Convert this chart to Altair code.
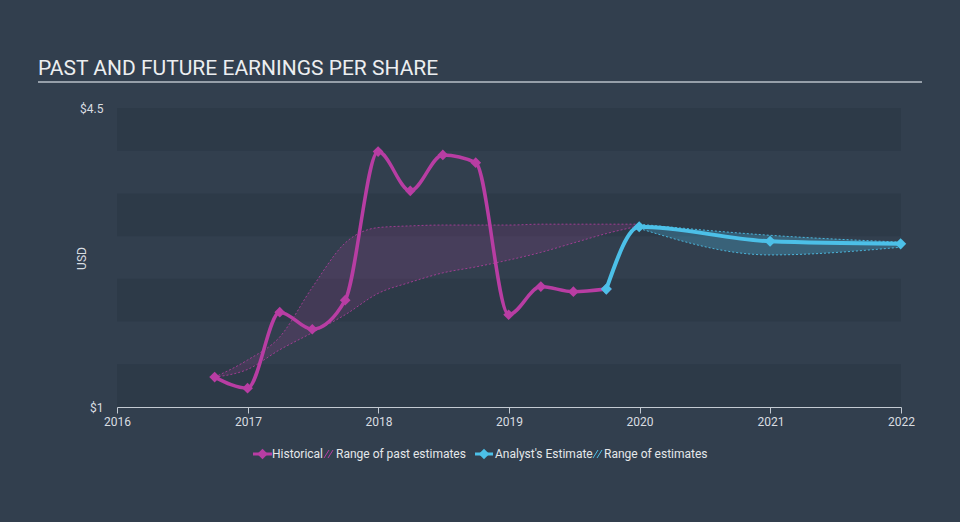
import altair as alt
import pandas as pd

# ---------------- data ----------------
hist_dates = ["2016-09-30", "2016-12-31", "2017-03-31", "2017-06-30", "2017-09-30",
              "2017-12-31", "2018-03-31", "2018-06-30", "2018-09-30", "2018-12-31",
              "2019-03-31", "2019-06-30", "2019-09-30"]
hist_eps = [1.35, 1.22, 2.11, 1.91, 2.25, 3.99, 3.53, 3.95, 3.86, 2.08, 2.41, 2.35, 2.38]

past_range_dates = hist_dates + ["2019-12-31"]
past_low = [1.35, 1.44, 1.67, 1.87, 2.08, 2.33, 2.46, 2.57, 2.64, 2.72, 2.81, 2.92, 3.03, 3.12]
past_high = [1.35, 1.55, 1.82, 2.40, 2.92, 3.10, 3.12, 3.13, 3.13, 3.13, 3.14, 3.14, 3.14, 3.14]

fc_dates = ["2019-09-30", "2019-12-31", "2020-12-31", "2021-12-31"]
fc_eps = [2.38, 3.11, 2.94, 2.91]

fc_range_dates = ["2019-12-31", "2020-12-31", "2021-12-31"]
fc_low = [3.09, 2.78, 2.87]
fc_high = [3.14, 3.01, 2.93]

band_lo = [1.0, 2.0, 3.0, 4.0]
band_hi = [1.5, 2.5, 3.5, 4.5]

x_tick_years = [2016, 2017, 2018, 2019, 2020, 2021, 2022]
y_ticks = [1, 4.5]

title_text = "PAST AND FUTURE EARNINGS PER SHARE"
legend_labels = ["Historical", "Range of past estimates", "Analyst's Estimate", "Range of estimates"]

# ---------------- style ----------------
W, H = 784, 299
BG = "#323f4e"
DARK = "#2d3a48"
MAG = "#b83da3"
BLUE = "#4cc0e8"
TXT = "#d9dde1"
FONT = "Roboto"

hist_df = pd.DataFrame({"date": hist_dates, "eps": hist_eps})
past_df = pd.DataFrame({"date": past_range_dates, "low": past_low, "high": past_high})
fc_df = pd.DataFrame({"date": fc_dates, "eps": fc_eps})
fcr_df = pd.DataFrame({"date": fc_range_dates, "low": fc_low, "high": fc_high})
band_df = pd.DataFrame({"lo": band_lo, "hi": band_hi})

xs = alt.Scale(type="utc",
               domain=[alt.DateTime(year=2016, month=1, date=1, utc=True),
                       alt.DateTime(year=2022, month=1, date=1, utc=True)])
ys = alt.Scale(domain=[1, 4.5], nice=False, zero=False)

x_axis = alt.Axis(values=[alt.DateTime(year=y, month=1, date=1, utc=True) for y in x_tick_years],
                  format="%Y", title=None, grid=False, domainColor="#c3cad2",
                  tickColor="#c3cad2", tickSize=6, labelPadding=3, labelColor=TXT,
                  labelFontSize=12, labelFont=FONT, domainWidth=1, labelFlush=False,
                  labelOverlap=False)
y_axis = alt.Axis(values=y_ticks, format="$.2~g", title="USD", grid=False, domain=False,
                  ticks=False, labelPadding=14, labelColor=TXT, labelFontSize=12,
                  labelFont=FONT, titleFont=FONT, titleFontSize=12, titleFontWeight="normal",
                  titleColor=TXT, titleX=-36, titleY=150, titleAngle=270,
                  titleAlign="center", titleBaseline="middle", labelFlush=False)

X = lambda f: alt.X(f, scale=xs, axis=x_axis)
Y = lambda f: alt.Y(f, scale=ys, axis=y_axis)

bands = alt.Chart(band_df).mark_rect(color=DARK).encode(
    x=alt.value(0), x2=alt.value(W), y=Y("lo:Q"), y2="hi:Q")

past_area = alt.Chart(past_df).mark_area(interpolate="monotone", color=MAG, opacity=0.16).encode(
    x=X("date:T"), y=Y("low:Q"), y2="high:Q")
past_lo_line = alt.Chart(past_df).mark_line(interpolate="monotone", color=MAG, strokeWidth=1,
                                            strokeDash=[2, 2], opacity=0.8).encode(
    x=X("date:T"), y=Y("low:Q"))
past_hi_line = alt.Chart(past_df).mark_line(interpolate="monotone", color=MAG, strokeWidth=1,
                                            strokeDash=[2, 2], opacity=0.8).encode(
    x=X("date:T"), y=Y("high:Q"))

fc_area = alt.Chart(fcr_df).mark_area(interpolate="monotone", color=BLUE, opacity=0.28).encode(
    x=X("date:T"), y=Y("low:Q"), y2="high:Q")
fc_lo_line = alt.Chart(fcr_df).mark_line(interpolate="monotone", color=BLUE, strokeWidth=1,
                                         strokeDash=[2, 2], opacity=0.9).encode(
    x=X("date:T"), y=Y("low:Q"))
fc_hi_line = alt.Chart(fcr_df).mark_line(interpolate="monotone", color=BLUE, strokeWidth=1,
                                         strokeDash=[2, 2], opacity=0.9).encode(
    x=X("date:T"), y=Y("high:Q"))

hist_line = alt.Chart(hist_df).mark_line(interpolate="monotone", color=MAG, strokeWidth=3.5).encode(
    x=X("date:T"), y=Y("eps:Q"))
hist_pts = alt.Chart(hist_df).mark_point(shape="diamond", filled=True, color=MAG, size=115, opacity=1).encode(
    x=X("date:T"), y=Y("eps:Q"))

fc_line = alt.Chart(fc_df).mark_line(interpolate="monotone", color=BLUE, strokeWidth=4).encode(
    x=X("date:T"), y=Y("eps:Q"))
fc_pts = alt.Chart(fc_df).mark_point(shape="diamond", filled=True, color=BLUE, size=125, opacity=1).encode(
    x=X("date:T"), y=Y("eps:Q"))

one = alt.Data(values=[{"k": 1}])

def txt(s, x, y, size=12, color=TXT, font=FONT, baseline="middle"):
    return alt.Chart(one).mark_text(text=s, align="left", baseline=baseline, fontSize=size,
                                    color=color, font=font).encode(x=alt.value(x), y=alt.value(y))

def rule(x1, x2, y1, y2, color, width):
    return alt.Chart(one).mark_rule(color=color, strokeWidth=width).encode(
        x=alt.value(x1), x2=alt.value(x2), y=alt.value(y1), y2=alt.value(y2))

def dia(x, y, color, size):
    return alt.Chart(one).mark_point(shape="diamond", filled=True, color=color, size=size, opacity=1).encode(
        x=alt.value(x), y=alt.value(y))

LY = 346
LTXT = "#e4e7ea"
deco = [
    txt(title_text, -79, -33, size=21, color="#eceef0", baseline="alphabetic"),
    rule(-79, 805, -26, -26, "#b9c0c8", 1.5),
    rule(136, 155, LY, LY, MAG, 3), dia(145.5, LY, MAG, 110),
    txt(legend_labels[0], 155, LY, color=LTXT),
    rule(207, 212, LY + 4, LY - 4, MAG, 1), rule(211, 216, LY + 4, LY - 4, MAG, 1),
    txt(legend_labels[1], 219, LY, color=LTXT),
    rule(358, 376, LY, LY, BLUE, 3), dia(367, LY, BLUE, 110),
    txt(legend_labels[2], 378, LY, color=LTXT),
    rule(476, 481, LY + 4, LY - 4, BLUE, 1), rule(480, 485, LY + 4, LY - 4, BLUE, 1),
    txt(legend_labels[3], 487, LY, color=LTXT),
]

chart = alt.layer(
    bands, past_area, past_lo_line, past_hi_line, fc_area, fc_lo_line, fc_hi_line,
    hist_line, hist_pts, fc_line, fc_pts, *deco
).properties(
    width=W, height=H,
    padding={"left": 117, "top": 108, "right": 59, "bottom": 115},
    autosize=alt.AutoSizeParams(type="none"),
    background=BG,
).configure_view(stroke=None)

chart.save("out.html", embed_options={"renderer": "svg", "actions": False})
